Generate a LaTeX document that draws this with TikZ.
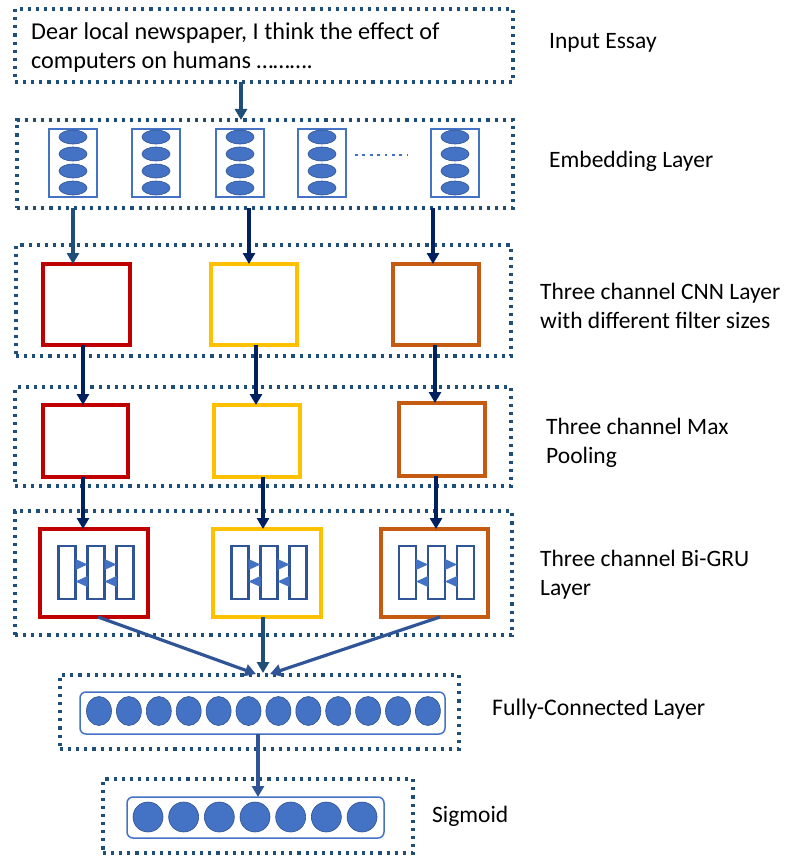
\documentclass[tikz,border=0pt]{standalone}
\usepackage{fontspec}
\setmainfont{Carlito}
\usetikzlibrary{arrows.meta,calc,shapes.geometric}
\definecolor{dotblue}{HTML}{1F4E79}
\definecolor{navy}{HTML}{002060}
\definecolor{midblue}{HTML}{2F5597}
\definecolor{accblue}{HTML}{4472C4}
\definecolor{ellline}{HTML}{2F528F}
\definecolor{chred}{HTML}{C00000}
\definecolor{chyellow}{HTML}{FFC000}
\definecolor{chorange}{HTML}{C55A11}
\begin{document}
\begin{tikzpicture}[x=1pt,y=-1pt,
  dotbox/.style={draw=dotblue, line width=3.1pt, dash pattern=on 3.1pt off 5pt, inner sep=0, outer sep=0},
  embcol/.style={draw=accblue, line width=1.3pt, minimum width=48pt, minimum height=68pt, inner sep=0, outer sep=0},
  embell/.style={ellipse, fill=accblue, draw=ellline, line width=0.6pt, minimum width=28pt, minimum height=14pt, inner sep=0},
  chbox/.style={line width=3.3pt, inner sep=0, outer sep=0, fill=white},
  grurect/.style={draw=midblue, line width=2.2pt, minimum width=17pt, minimum height=53pt, inner sep=0, outer sep=0},
  tri/.style={fill=accblue},
  arr/.style={line width=3.2pt, -{Triangle[width=12pt,length=11pt]}},
  rbox/.style={draw=accblue, line width=1.5pt, rounded corners=6pt, inner sep=0, outer sep=0},
  cell/.style={ellipse, fill=accblue, draw=ellline, line width=0.6pt, inner sep=0},
  lbl/.style={anchor=base west, inner sep=0, font=\fontsize{23.5}{29}\selectfont}
]
\useasboundingbox (0,0) rectangle (784,856);

% ---------- Input essay ----------
\node[dotbox, minimum width=498pt, minimum height=73pt] (essay) at (264,45.5) {};
\node[lbl, font=\fontsize{24.2}{29}\selectfont] (essaytxt) at (31,40) {\begin{tabular}[t]{@{}l@{}}Dear local newspaper, I think the effect of\\computers on humans \dots\dots\dots.\end{tabular}};
\node[lbl] (l1) at (549,49) {Input Essay};

% ---------- Embedding ----------
\node[dotbox, minimum width=496pt, minimum height=88pt] (emb) at (265,164) {};
\foreach \i/\x in {1/73,2/156,3/240,4/322,5/455} {
  \node[embcol] (e\i) at (\x,163) {};
  \foreach \j/\y in {1/137,2/154,3/171,4/188}
    \node[embell] (e\i-\j) at (\x,\y) {};
}
\coordinate (dl1) at (355,155);
\coordinate (dl2) at (408,155);
\draw[accblue, line width=2.8pt, dash pattern=on 2.8pt off 4.6pt] (dl1) -- (dl2);
\node[lbl] (l2) at (549,167) {Embedding Layer};

% ---------- CNN ----------
\node[dotbox, minimum width=495pt, minimum height=111pt] (cnn) at (263.5,300.5) {};
\node[chbox, draw=chred, minimum width=87pt, minimum height=81pt] (c1) at (86.5,304.5) {};
\node[chbox, draw=chyellow, minimum width=86pt, minimum height=81pt] (c2) at (254,304.5) {};
\node[chbox, draw=chorange, minimum width=86pt, minimum height=81pt] (c3) at (436,304.5) {};
\node[lbl] (l3) at (540,299) {\begin{tabular}[t]{@{}l@{}}Three channel CNN Layer\\with different filter sizes\end{tabular}};

% ---------- Max pooling ----------
\node[dotbox, minimum width=496pt, minimum height=99pt] (pool) at (263,436.5) {};
\node[chbox, draw=chred, minimum width=85pt, minimum height=72pt] (p1) at (85.5,441) {};
\node[chbox, draw=chyellow, minimum width=86pt, minimum height=72pt] (p2) at (257,441) {};
\node[chbox, draw=chorange, minimum width=86pt, minimum height=73pt] (p3) at (442,439.5) {};
\node[lbl] (l4) at (546,434) {\begin{tabular}[t]{@{}l@{}}Three channel Max\\Pooling\end{tabular}};

% ---------- Bi-GRU ----------
\node[dotbox, minimum width=497pt, minimum height=124pt] (gru) at (263.5,573) {};
\node[chbox, draw=chred, minimum width=108pt, minimum height=88pt] (g1) at (94,573) {};
\node[chbox, draw=chyellow, minimum width=108pt, minimum height=88pt] (g2) at (267,573) {};
\node[chbox, draw=chorange, minimum width=107pt, minimum height=88pt] (g3) at (434.5,573) {};
\foreach \g/\cx in {1/94,2/267,3/434.5} {
  \node[grurect] (g\g-a) at (\cx-27,572.5) {};
  \node[grurect] (g\g-b) at (\cx+2,572.5) {};
  \node[grurect] (g\g-c) at (\cx+31,572.5) {};
  \fill[tri] ($(g\g-a.east)+(0,-13.5)$) -- ($(g\g-a.east)+(0,-2.5)$) -- ($(g\g-b.west)+(0,-8)$) -- cycle;
  \fill[tri] ($(g\g-b.east)+(0,-13.5)$) -- ($(g\g-b.east)+(0,-2.5)$) -- ($(g\g-c.west)+(0,-8)$) -- cycle;
  \fill[tri] ($(g\g-b.west)+(0,3.5)$) -- ($(g\g-b.west)+(0,14.5)$) -- ($(g\g-a.east)+(0,9)$) -- cycle;
  \fill[tri] ($(g\g-c.west)+(0,3.5)$) -- ($(g\g-c.west)+(0,14.5)$) -- ($(g\g-b.east)+(0,9)$) -- cycle;
}
\node[lbl] (l5) at (540,566) {\begin{tabular}[t]{@{}l@{}}Three channel Bi-GRU\\Layer\end{tabular}};

% ---------- Fully connected ----------
\node[dotbox, minimum width=399pt, minimum height=74pt] (fc) at (259.5,712) {};
\node[rbox, minimum width=365pt, minimum height=42pt] (fcin) at (262.5,713) {};
\foreach \k in {0,...,11}
  \node[cell, minimum width=25pt, minimum height=29pt] (f\k) at ({99+29.9*\k},711) {};
\node[lbl, font=\fontsize{23.8}{29}\selectfont] (l6) at (492,715) {Fully-Connected Layer};

% ---------- Sigmoid ----------
\node[dotbox, minimum width=310pt, minimum height=74pt] (sig) at (258,816) {};
\node[rbox, minimum width=257pt, minimum height=41pt] (sigin) at (255.5,817.5) {};
\foreach \k in {0,...,6}
  \node[cell, minimum width=30pt, minimum height=30pt] (s\k) at ({148+35.67*\k},817) {};
\node[lbl] (l7) at (432,822) {Sigmoid};

% ---------- connectors ----------
\coordinate (xe) at (241,0);
\draw[arr, dotblue] (essay.south -| xe) -- (emb.north -| xe);

\coordinate (xa1) at (73,0);
\coordinate (xa2) at (249,0);
\coordinate (xa3) at (433,0);
\draw[arr, dotblue] (emb.south -| xa1) -- (c1.north -| xa1);
\draw[arr, navy] (emb.south -| xa2) -- (c2.north -| xa2);
\draw[arr, navy] (emb.south -| xa3) -- (c3.north -| xa3);

\coordinate (xb1) at (83,0);
\coordinate (xb2) at (256,0);
\coordinate (xb3) at (435,0);
\draw[arr, navy] (c1.south -| xb1) -- (p1.north -| xb1);
\draw[arr, navy] (c2.south -| xb2) -- (p2.north -| xb2);
\draw[arr, navy] (c3.south -| xb3) -- (p3.north -| xb3);

\coordinate (xc1) at (83,0);
\coordinate (xc2) at (263,0);
\coordinate (xc3) at (436,0);
\draw[arr, navy] (p1.south -| xc1) -- (g1.north -| xc1);
\draw[arr, navy] (p2.south -| xc2) -- (g2.north -| xc2);
\draw[arr, navy] (p3.south -| xc3) -- (g3.north -| xc3);

\coordinate (s1) at (98,617);
\coordinate (s3) at (440,617);
\coordinate (j1) at (256,674);
\coordinate (j2) at (263,673);
\coordinate (j3) at (270,674);
\draw[arr, midblue] (g1.south -| s1) -- (j1);
\draw[arr, dotblue] (g2.south -| j2) -- (j2);
\draw[arr, midblue] (g3.south -| s3) -- (j3);

\draw[arr, midblue] (fcin.south -| sig.north) -- (sigin.north -| sig.north);
\end{tikzpicture}
\end{document}
